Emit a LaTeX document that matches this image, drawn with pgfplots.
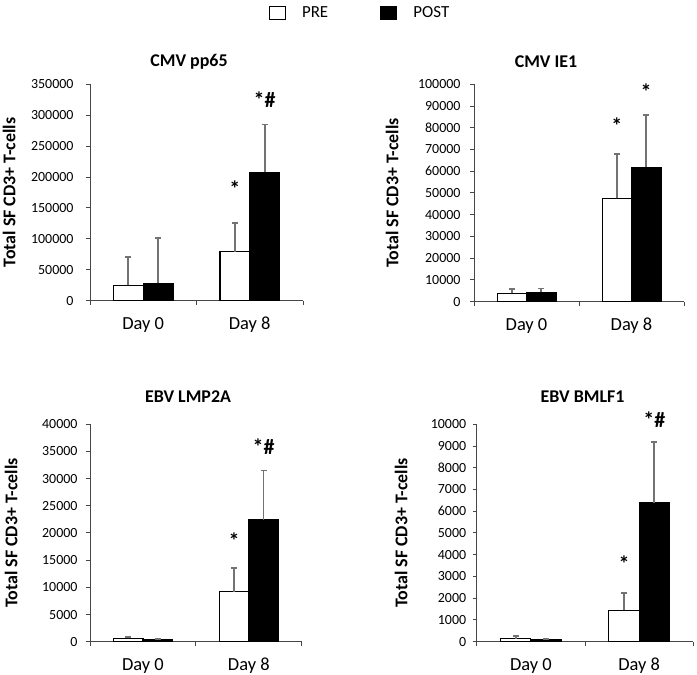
\documentclass[border=0pt]{standalone}
\usepackage{fontspec}
\setmainfont{Carlito}
\usepackage{pgfplots}
\pgfplotsset{compat=1.18}
\definecolor{errgray}{RGB}{115,115,115}
\definecolor{axgray}{RGB}{70,70,70}
\tikzset{sigstar/.style={font=\bfseries\fontsize{22}{24}\selectfont, anchor=base, inner sep=0pt}}
\pgfplotsset{
  panel/.style={
    scale only axis, anchor=south west, clip=false,
    axis lines*=left,
    axis line style={draw=axgray, line width=1bp, -},
    tick align=outside, major tick length=4bp,
    tick style={draw=axgray, line width=1bp},
    xmin=-0.5, xmax=1.5, ymin=0,
    xtick={-0.5,0.5,1.5}, x tick label as interval,
    xticklabels={Day 0, Day 8},
    xticklabel style={font=\fontsize{18.5}{20}\selectfont, yshift=-9bp},
    yticklabel style={font=\fontsize{14}{16}\selectfont},
    scaled y ticks=false,
    /pgf/number format/assume math mode=true,
    y tick label style={/pgf/number format/fixed, /pgf/number format/1000 sep={}},
    title style={font=\bfseries\fontsize{18}{20}\selectfont, anchor=base, yshift=-12bp},
    ylabel={Total SF CD3+ T-cells},
    ylabel style={font=\bfseries\fontsize{18}{20}\selectfont, anchor=center},
  },
  errs/.style={error bars/.cd, y dir=plus, y explicit,
    error bar style={draw=errgray, line width=1.8bp},
    error mark options={rotate=90, mark size=3bp, draw=errgray, line width=1.8bp}},
  prebar/.style={ybar, bar width=0.28, bar shift=0, fill=white, draw=black, line width=1.2bp, errs},
  postbar/.style={ybar, bar width=0.28, bar shift=0, fill=black, draw=black, line width=1.2bp, errs},
}
\begin{document}
\begin{tikzpicture}
\path[use as bounding box] (0,0) rectangle (697bp,675bp);
% CMV pp65
\begin{axis}[panel, at={(90bp,374.3bp)}, width=213bp, height=216.4bp,
  ymax=350000, ytick distance=50000, yticklabel style={xshift=-9bp},
  title={CMV pp65}, title style={at={(axis description cs:0.465,1.108)}},
  ylabel style={at={(axis description cs:-0.38,0.5)}},
  legend style={at={(axis description cs:1.268,1.329)}, anchor=center, draw=none, fill=none,
    legend columns=2, font=\fontsize{17}{19}\selectfont,
    /tikz/every odd column/.append style={column sep=14bp},
    /tikz/every even column/.append style={column sep=50bp}},
  legend image code/.code={\draw[#1,/tikz/.cd,line width=1.2bp] (0bp,-6bp) rectangle (16bp,7bp);}]
\addplot[prebar] coordinates {(-0.14,25000) +- (0,46200) (0.86,79000) +- (0,46200)};
\addlegendentry{PRE}
\addplot[postbar] coordinates {(0.14,28000) +- (0,73000) (1.14,207500) +- (0,77500)};
\addlegendentry{POST}
\node[sigstar] at (axis cs:0.86,168000) {*};
\node[sigstar] at (axis cs:1.14,311700) {*\#};
\end{axis}
% CMV IE1
\begin{axis}[panel, at={(474bp,373.3bp)}, width=210bp, height=217.4bp,
  ymax=100000, ytick distance=10000, yticklabel style={xshift=-6bp},
  title={CMV IE1}, title style={at={(axis description cs:0.343,1.107)}},
  ylabel style={at={(axis description cs:-0.39,0.5)}}]
\addplot[prebar] coordinates {(-0.14,3800) +- (0,1900) (0.86,47500) +- (0,20600)};
\addplot[postbar] coordinates {(0.14,4300) +- (0,1800) (1.14,61800) +- (0,23900)};
\node[sigstar] at (axis cs:0.86,77500) {*};
\node[sigstar] at (axis cs:1.14,93000) {*};
\end{axis}
% EBV LMP2A
\begin{axis}[panel, at={(90bp,33.3bp)}, width=211.7bp, height=217.4bp,
  ymax=40000, ytick distance=5000, yticklabel style={xshift=-5bp},
  title={EBV LMP2A}, title style={at={(axis description cs:0.463,1.130)}},
  ylabel style={at={(axis description cs:-0.373,0.5)}}]
\addplot[prebar] coordinates {(-0.14,600) +- (0,250) (0.86,9200) +- (0,4400)};
\addplot[postbar] coordinates {(0.14,400) +- (0,150) (1.14,22400) +- (0,9100)};
\node[sigstar] at (axis cs:0.86,17200) {*};
\node[sigstar] at (axis cs:1.14,34520) {*\#};
\end{axis}
% EBV BMLF1
\begin{axis}[panel, at={(476.7bp,33.3bp)}, width=216.6bp, height=217.4bp,
  ymax=10000, ytick distance=1000, yticklabel style={xshift=-3bp},
  title={EBV BMLF1}, title style={at={(axis description cs:0.489,1.130)}},
  ylabel style={at={(axis description cs:-0.349,0.5)}}]
\addplot[prebar] coordinates {(-0.14,130) +- (0,130) (0.86,1450) +- (0,800)};
\addplot[postbar] coordinates {(0.14,80) +- (0,50) (1.14,6400) +- (0,2800)};
\node[sigstar] at (axis cs:0.86,3250) {*};
\node[sigstar] at (axis cs:1.14,9853) {*\#};
\end{axis}
\end{tikzpicture}
\end{document}
